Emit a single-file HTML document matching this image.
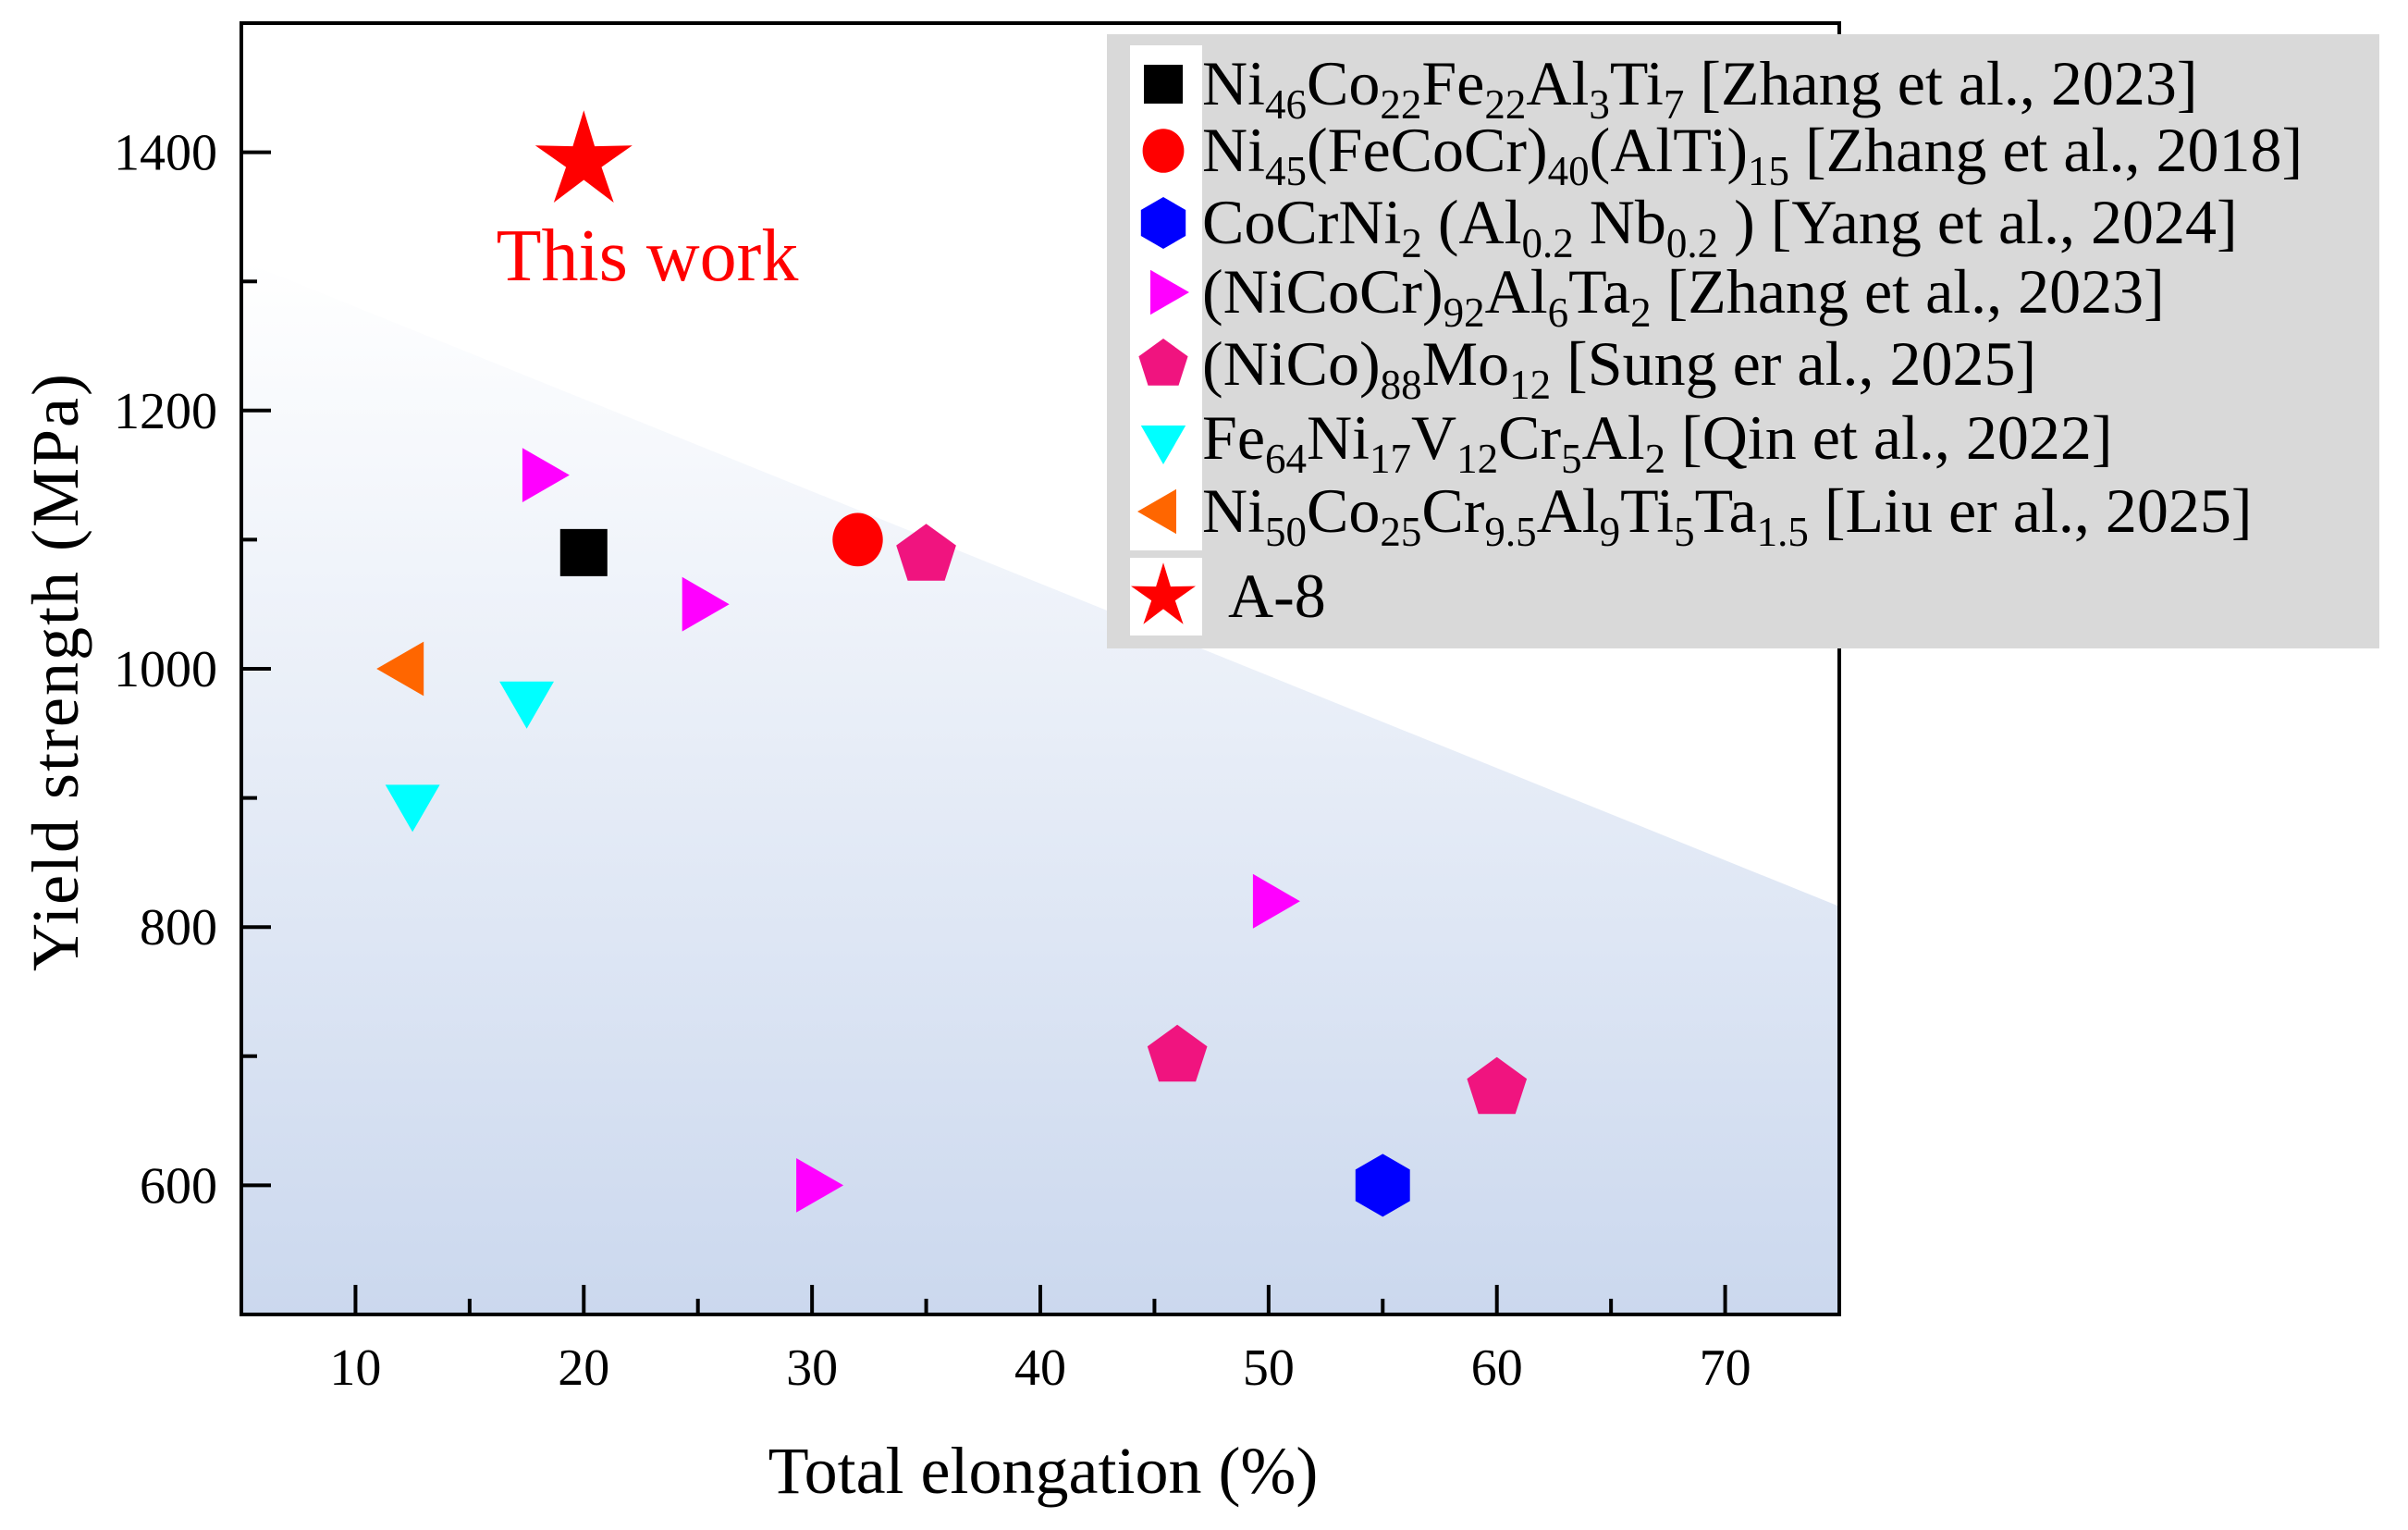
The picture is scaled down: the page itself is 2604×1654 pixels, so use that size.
<!DOCTYPE html>
<html><head><meta charset="utf-8"><style>
html,body{margin:0;padding:0;background:#fff;}
svg{display:block;font-family:"Liberation Serif",serif;}
</style></head><body>
<svg id="chart" width="2604" height="1654" viewBox="0 0 2604 1654" xmlns="http://www.w3.org/2000/svg">
<defs>
<linearGradient id="shade" x1="0" y1="0" x2="0" y2="1">
<stop offset="0" stop-color="#ffffff"/><stop offset="1" stop-color="#cbd8ee"/>
</linearGradient>
</defs>
<rect width="2604" height="1654" fill="#fff"/>
<g id="plot"></g>
<text x="1128" y="1614" font-size="72" text-anchor="middle">Total elongation (%)</text>
<text transform="translate(84,726) rotate(-90)" font-size="72" text-anchor="middle" letter-spacing="2">Yield strength (MPa)</text>
<g>
<rect x="1197" y="37" width="1376" height="664" fill="#d9d9d9"/>
<g font-size="68">
<text x="1300" y="113">Ni<tspan font-size="45" dy="15">46</tspan><tspan dy="-15">Co</tspan><tspan font-size="45" dy="15">22</tspan><tspan dy="-15">Fe</tspan><tspan font-size="45" dy="15">22</tspan><tspan dy="-15">Al</tspan><tspan font-size="45" dy="15">3</tspan><tspan dy="-15">Ti</tspan><tspan font-size="45" dy="15">7</tspan><tspan dy="-15"> [Zhang et al., 2023]</tspan></text>
<text x="1300" y="185">Ni<tspan font-size="45" dy="15">45</tspan><tspan dy="-15">(FeCoCr)</tspan><tspan font-size="45" dy="15">40</tspan><tspan dy="-15">(AlTi)</tspan><tspan font-size="45" dy="15">15</tspan><tspan dy="-15"> [Zhang et al., 2018]</tspan></text>
<text x="1300" y="263">CoCrNi<tspan font-size="45" dy="15">2</tspan><tspan dy="-15"> (Al</tspan><tspan font-size="45" dy="15">0.2</tspan><tspan dy="-15"> Nb</tspan><tspan font-size="45" dy="15">0.2</tspan><tspan dy="-15"> ) [Yang et al., 2024]</tspan></text>
<text x="1300" y="338">(NiCoCr)<tspan font-size="45" dy="15">92</tspan><tspan dy="-15">Al</tspan><tspan font-size="45" dy="15">6</tspan><tspan dy="-15">Ta</tspan><tspan font-size="45" dy="15">2</tspan><tspan dy="-15"> [Zhang et al., 2023]</tspan></text>
<text x="1300" y="416">(NiCo)<tspan font-size="45" dy="15">88</tspan><tspan dy="-15">Mo</tspan><tspan font-size="45" dy="15">12</tspan><tspan dy="-15"> [Sung er al., 2025]</tspan></text>
<text x="1300" y="496">Fe<tspan font-size="45" dy="15">64</tspan><tspan dy="-15">Ni</tspan><tspan font-size="45" dy="15">17</tspan><tspan dy="-15">V</tspan><tspan font-size="45" dy="15">12</tspan><tspan dy="-15">Cr</tspan><tspan font-size="45" dy="15">5</tspan><tspan dy="-15">Al</tspan><tspan font-size="45" dy="15">2</tspan><tspan dy="-15"> [Qin et al., 2022]</tspan></text>
<text x="1300" y="575">Ni<tspan font-size="45" dy="15">50</tspan><tspan dy="-15">Co</tspan><tspan font-size="45" dy="15">25</tspan><tspan dy="-15">Cr</tspan><tspan font-size="45" dy="15">9.5</tspan><tspan dy="-15">Al</tspan><tspan font-size="45" dy="15">9</tspan><tspan dy="-15">Ti</tspan><tspan font-size="45" dy="15">5</tspan><tspan dy="-15">Ta</tspan><tspan font-size="45" dy="15">1.5</tspan><tspan dy="-15"> [Liu er al., 2025]</tspan></text>
<text x="1328" y="667">A-8</text>
</g>
<g id="legend-markers"></g>
</g>
<text x="700" y="303" font-size="80" fill="#ff0000" text-anchor="middle">This work</text>
</svg>
<script>
const xTicks = [10, 20, 30, 40, 50, 60, 70];
const yTicks = [600, 800, 1000, 1200, 1400];
const seriesNames = ["Ni46Co22Fe22Al3Ti7", "Ni45(FeCoCr)40(AlTi)15", "CoCrNi2(Al0.2Nb0.2)", "(NiCoCr)92Al6Ta2", "(NiCo)88Mo12", "Fe64Ni17V12Cr5Al2", "Ni50Co25Cr9.5Al9Ti5Ta1.5", "A-8"];
const seriesShapes = ["square", "circle", "hexagon", "right", "pentagon", "down", "left", "star"];
const seriesColors = ["#000000", "#ff0000", "#0000ff", "#ff00ff", "#f0147f", "#00ffff", "#ff6600", "#ff0000"];
const seriesX = [[20], [32], [55], [18, 25, 30, 50], [35, 46, 60], [17.5, 12.5], [12.3], [20]];
const seriesY = [[1090], [1100], [600], [1150, 1050, 600, 820], [1088, 700, 675], [978, 898], [1000], [1393]];

const NS = "http://www.w3.org/2000/svg";
const L = 261, R = 1989, T = 25, B = 1421;
const xMin = 5, xMax = 75, yMin = 500, yMax = 1500;
const sx = v => L + (v - xMin) / (xMax - xMin) * (R - L);
const sy = v => B - (v - yMin) / (yMax - yMin) * (B - T);
function mk(tag, attrs, parent) {
  const e = document.createElementNS(NS, tag);
  for (const k in attrs) e.setAttribute(k, attrs[k]);
  parent.appendChild(e);
  return e;
}
function shapePath(shape, cx, cy, s) {
  const pts = [];
  const poly = (n, rot) => { for (let i = 0; i < n; i++) { const a = rot + i * 2 * Math.PI / n; pts.push([cx + s * Math.cos(a), cy + s * Math.sin(a)]); } };
  if (shape === "square") { const h = s * 0.75; return `M${cx-h},${cy-h}H${cx+h}V${cy+h}H${cx-h}Z`; }
  if (shape === "hexagon") poly(6, -Math.PI / 2);
  else if (shape === "pentagon") poly(5, -Math.PI / 2);
  else if (shape === "right") poly(3, 0);
  else if (shape === "left") poly(3, Math.PI);
  else if (shape === "down") poly(3, Math.PI / 2);
  else if (shape === "star") { for (let i = 0; i < 10; i++) { const r = i % 2 ? s * 0.42 : s * 1.15; const a = -Math.PI / 2 + i * Math.PI / 5; pts.push([cx + r * Math.cos(a), cy + r * Math.sin(a)]); } }
  return "M" + pts.map(p => p[0].toFixed(1) + "," + p[1].toFixed(1)).join("L") + "Z";
}
function drawMarker(parent, shape, color, cx, cy, s) {
  let e;
  if (shape === "circle") e = mk("ellipse", { cx: cx, cy: cy, rx: s * 0.8, ry: s * 0.85, fill: color }, parent);
  else e = mk("path", { d: shapePath(shape, cx, cy, s), fill: color }, parent);
  return e;
}
const plot = document.getElementById("plot");
const shade = mk("polygon", { points: `${L},${sy(1316)} ${R},${sy(816)} ${R},${B} ${L},${B}`, fill: "url(#shade)" }, plot);


xTicks.forEach(v => {
  const t = mk("line", { x1: sx(v), x2: sx(v), y1: B, y2: B - 32, stroke: "#000", "stroke-width": 4 }, plot);
  
  
  const m = mk("line", { x1: sx(v + 5), x2: sx(v + 5), y1: B, y2: B - 17, stroke: "#000", "stroke-width": 4 }, plot);
  
  
  const lb = mk("text", { x: sx(v), y: B + 76, "font-size": 56, "text-anchor": "middle" }, plot);
  lb.textContent = v;
  
  
});
yTicks.forEach(v => {
  const t = mk("line", { x1: L, x2: L + 32, y1: sy(v), y2: sy(v), stroke: "#000", "stroke-width": 4 }, plot);
  
  
  const m = mk("line", { x1: L, x2: L + 17, y1: sy(v - 100), y2: sy(v - 100), stroke: "#000", "stroke-width": 4 }, plot);
  
  
  const lb = mk("text", { x: L - 26, y: sy(v) + 19, "font-size": 56, "text-anchor": "end" }, plot);
  lb.textContent = v;
  
  
});
const frame = mk("rect", { x: L, y: T, width: R - L, height: B - T, fill: "none", stroke: "#000", "stroke-width": 4 }, plot);


seriesNames.forEach((name, i) => {
  seriesX[i].forEach((xv, j) => {
    const e = drawMarker(plot, seriesShapes[i], seriesColors[i], sx(xv), sy(seriesY[i][j]), seriesShapes[i] === "star" ? 48 : 34);
    
    
  });
});
const lm = document.getElementById("legend-markers");
const legendY = [91, 163, 241, 316, 394, 474, 553, 645];
seriesNames.forEach((name, i) => {
  const bg = mk("rect", { x: 1222, y: legendY[i] - 42, width: 78, height: 84, fill: "#fff" }, lm);
  
  
  const e = drawMarker(lm, seriesShapes[i], seriesColors[i], 1258, legendY[i], seriesShapes[i] === "star" ? 32 : 28);
  
  
});
</script>
</body></html>
